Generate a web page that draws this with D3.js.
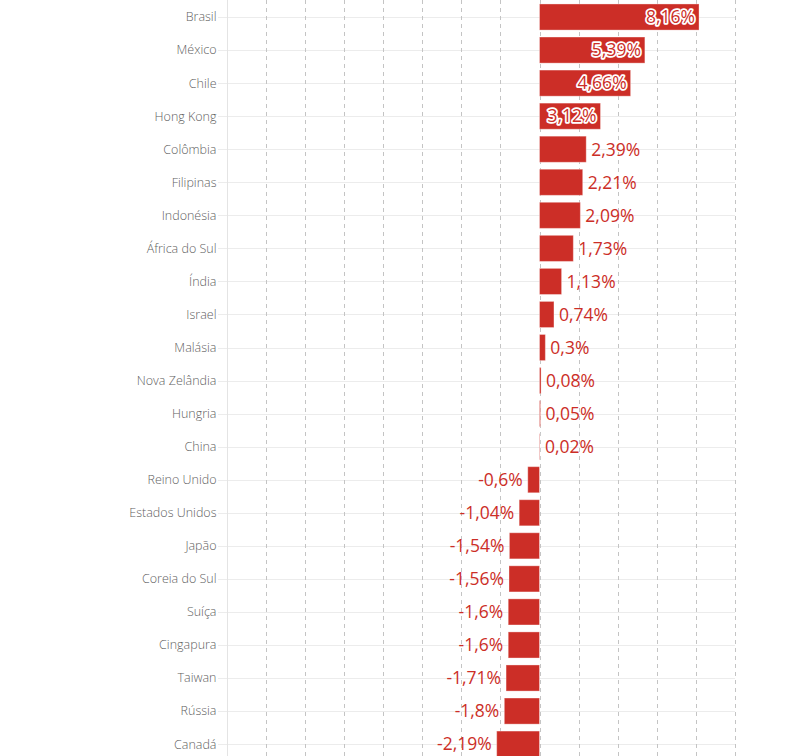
<!DOCTYPE html>
<html>
<head>
<meta charset="utf-8">
<script src="https://cdn.jsdelivr.net/npm/d3@7"></script>
<style>
  body { margin: 0; padding: 0; background: #fff; }
  svg { display: block; font-family: "Open Sans", sans-serif; }
</style>
</head>
<body>
<div id="chart"></div>
<script>
// data
var countries = ["Brasil", "México", "Chile", "Hong Kong", "Colômbia", "Filipinas", "Indonésia",
  "África do Sul", "Índia", "Israel", "Malásia", "Nova Zelândia", "Hungria", "China",
  "Reino Unido", "Estados Unidos", "Japão", "Coreia do Sul", "Suíça", "Cingapura",
  "Taiwan", "Rússia", "Canadá"];
var values = [8.16, 5.39, 4.66, 3.12, 2.39, 2.21, 2.09, 1.73, 1.13, 0.74, 0.3, 0.08, 0.05, 0.02,
  -0.6, -1.04, -1.54, -1.56, -1.6, -1.6, -1.71, -1.8, -2.19];
var xTicks = [-16, -14, -12, -10, -8, -6, -4, -2, 0, 2, 4, 6, 8, 10];

var width = 788, height = 756;
var red = "#cc2e27";

var rows = countries.map(function(c, i) { return { name: c, value: values[i] }; });

var svg = d3.select("#chart").append("svg")
    .attr("width", width)
    .attr("height", height);

var x = d3.scaleLinear().domain([-16, 10]).range([226.7, 735]);
var y = d3.scaleBand().domain(countries).range([0.5, 0.5 + 33.05 * countries.length]).paddingInner(0.21).paddingOuter(0.105);

// horizontal grid lines through the row centres (with a small tick)
svg.append("g").selectAll("line")
  .data(countries)
  .join("line")
    .attr("x1", 218).attr("x2", x(10))
    .attr("y1", function(d) { return Math.round(y(d) + y.bandwidth() / 2) + 0.5; })
    .attr("y2", function(d) { return Math.round(y(d) + y.bandwidth() / 2) + 0.5; })
    .attr("stroke", "#ececec");

// vertical grid lines
svg.append("g").selectAll("line")
  .data(xTicks)
  .join("line")
    .attr("x1", function(d) { return Math.round(x(d)) + 0.5; })
    .attr("x2", function(d) { return Math.round(x(d)) + 0.5; })
    .attr("y1", 0).attr("y2", height)
    .attr("stroke", function(d) { return d === -16 ? "#e4e4e4" : "#c4c4c4"; })
    .attr("stroke-dasharray", function(d) { return d === -16 ? null : "4,4"; });

// bars
svg.append("g").selectAll("rect")
  .data(rows)
  .join("rect")
    .attr("x", function(d) { return x(Math.min(0, d.value)); })
    .attr("y", function(d) { return y(d.name); })
    .attr("width", function(d) { return Math.abs(x(d.value) - x(0)); })
    .attr("height", y.bandwidth())
    .attr("fill", red)
    .attr("stroke", "rgba(255,255,255,0.35)")
    .attr("stroke-width", 1);

// country labels
svg.append("g").selectAll("text")
  .data(rows)
  .join("text")
    .attr("x", 216.5)
    .attr("y", function(d) { return y(d.name) + y.bandwidth() / 2; })
    .attr("dy", "0.35em")
    .attr("text-anchor", "end")
    .attr("font-size", 12.5)
    .attr("font-weight", 300)
    .attr("fill", "#5f5f5f")
    .text(function(d) { return d.name; });

// value labels
function fmt(v) { return String(v).replace(".", ",") + "%"; }
function inside(d) { return d.value >= 3; }

svg.append("g").selectAll("text")
  .data(rows)
  .join("text")
    .attr("x", function(d) {
      if (d.value < 0) return x(d.value) - 5;
      return inside(d) ? x(d.value) - 4 : x(d.value) + 5;
    })
    .attr("y", function(d) { return y(d.name) + y.bandwidth() / 2; })
    .attr("dy", "0.36em")
    .attr("text-anchor", function(d) { return d.value < 0 || inside(d) ? "end" : "start"; })
    .attr("font-size", 17.5)
    .attr("fill", red)
    .attr("stroke", function(d) { return inside(d) ? "#fff" : null; })
    .attr("stroke-width", function(d) { return inside(d) ? 3.5 : null; })
    .attr("stroke-linejoin", "round")
    .attr("paint-order", "stroke")
    .text(function(d) { return fmt(d.value); });
</script>
</body>
</html>
